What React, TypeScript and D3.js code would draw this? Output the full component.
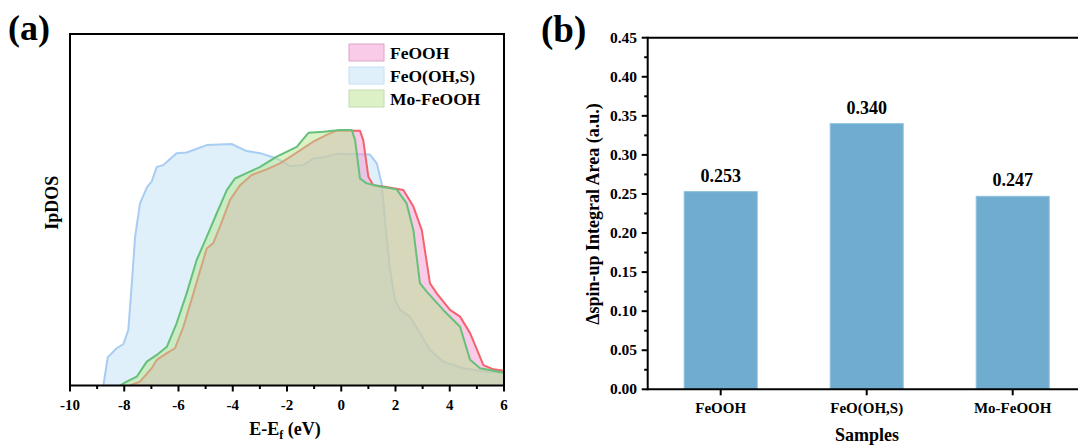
import React from "react";
import * as d3 from "d3";

// Integrated projected DOS, [E - Ef (eV), IpDOS (a.u.)]
const feoohDos: [number, number][] = [
  [-7.79, 0], [-7.42, 0.011], [-6.99, 0.049], [-6.8, 0.073], [-6.43, 0.092], [-6.13, 0.106],
  [-5.82, 0.167], [-5.45, 0.262], [-4.96, 0.39], [-4.72, 0.405], [-4.47, 0.452], [-4.1, 0.528],
  [-3.73, 0.57], [-3.3, 0.599], [-2.75, 0.615], [-2.26, 0.632], [-1.77, 0.656], [-1.03, 0.694],
  [-0.54, 0.713], [-0.17, 0.725], [0.69, 0.725], [0.81, 0.698], [1.0, 0.594], [1.18, 0.57],
  [1.55, 0.566], [2.29, 0.556], [2.66, 0.509], [2.97, 0.442], [3.27, 0.291], [3.52, 0.262],
  [4.01, 0.215], [4.38, 0.196], [4.75, 0.149], [5.24, 0.058], [5.61, 0.046], [6.0, 0.042],
];

const feoOhsDos: [number, number][] = [
  [-8.77, 0], [-8.61, 0.08], [-8.28, 0.106], [-8.03, 0.118], [-7.85, 0.158], [-7.73, 0.281],
  [-7.6, 0.423], [-7.42, 0.518], [-7.15, 0.566], [-6.99, 0.58], [-6.8, 0.622], [-6.56, 0.627],
  [-6.07, 0.661], [-5.7, 0.663], [-4.96, 0.684], [-4.04, 0.687], [-3.49, 0.667], [-2.99, 0.661],
  [-2.38, 0.646], [-1.89, 0.624], [-1.4, 0.627], [-1.03, 0.646], [-0.66, 0.649], [-0.17, 0.659],
  [1.06, 0.657], [1.31, 0.632], [1.49, 0.575], [1.61, 0.471], [1.8, 0.329], [1.98, 0.243],
  [2.17, 0.215], [2.53, 0.196], [2.9, 0.149], [3.27, 0.101], [3.76, 0.068], [4.5, 0.049],
  [5.36, 0.039], [6.0, 0.036],
];

const moFeoohDos: [number, number][] = [
  [-8.16, 0], [-7.91, 0.011], [-7.54, 0.025], [-7.17, 0.068], [-6.8, 0.087], [-6.43, 0.11],
  [-6.07, 0.177], [-5.7, 0.262], [-5.33, 0.357], [-4.96, 0.423], [-4.59, 0.49], [-4.22, 0.556],
  [-3.92, 0.589], [-3.49, 0.604], [-2.99, 0.622], [-2.38, 0.651], [-1.64, 0.679], [-1.21, 0.719],
  [-0.66, 0.722], [-0.05, 0.727], [0.39, 0.727], [0.51, 0.698], [0.69, 0.589], [0.94, 0.575],
  [1.43, 0.566], [2.04, 0.558], [2.41, 0.518], [2.66, 0.442], [2.9, 0.291], [3.15, 0.267],
  [3.76, 0.215], [4.38, 0.167], [4.75, 0.073], [5.12, 0.049], [5.61, 0.042], [6.0, 0.036],
];

const energyTicks = [-10, -8, -6, -4, -2, 0, 2, 4, 6];

const sampleNames = ["FeOOH", "FeO(OH,S)", "Mo-FeOOH"];
const spinUpArea = [0.253, 0.34, 0.247];
const areaTicks = [0, 0.05, 0.1, 0.15, 0.2, 0.25, 0.3, 0.35, 0.4, 0.45];

const FONT = "'Liberation Serif', 'Times New Roman', serif";

// draw order: blue underneath, then pink, then green on top
const dosSeries = [
  { name: "FeO(OH,S)", data: feoOhsDos, fill: "rgb(191,225,247)", line: "#a9ccf2" },
  { name: "FeOOH", data: feoohDos, fill: "rgb(243,151,209)", line: "#f2646c" },
  { name: "Mo-FeOOH", data: moFeoohDos, fill: "rgb(181,229,141)", line: "#66c07a" },
];

const legendItems = [
  { name: "FeOOH", fill: "#f9cbe8", stroke: "#d9a6c6" },
  { name: "FeO(OH,S)", fill: "#dff0fb", stroke: "#c8e0f2" },
  { name: "Mo-FeOOH", fill: "#dcf2c6", stroke: "#c4dcaf" },
];

function DosPanel() {
  const left = 70, right = 504, top = 34, bottom = 385.5;
  const x = d3.scaleLinear().domain([-10, 6]).range([left, right]);
  const y = d3.scaleLinear().domain([0, 1]).range([bottom, top]);
  const area = d3.area<[number, number]>().x((d) => x(d[0])).y0(y(0)).y1((d) => y(d[1]));
  const line = d3.line<[number, number]>().x((d) => x(d[0])).y((d) => y(d[1]));
  const minor = d3.range(-9, 6, 2);

  return (
    <g>
      <text x={8} y={40} fontFamily={FONT} fontWeight="bold" fontSize={36}>(a)</text>
      {dosSeries.map((s) => (
        <g key={s.name}>
          <path d={area(s.data) ?? ""} fill={s.fill} fillOpacity={0.5} />
          <path d={line(s.data) ?? ""} fill="none" stroke={s.line} strokeWidth={2} strokeLinejoin="round" />
        </g>
      ))}
      {/* frame */}
      <rect x={left} y={top} width={right - left} height={bottom - top} fill="none" stroke="#000" strokeWidth={2} />
      {energyTicks.map((t) => (
        <g key={t}>
          <line x1={x(t)} x2={x(t)} y1={bottom} y2={bottom + 6} stroke="#000" strokeWidth={2} />
          <text x={x(t)} y={410} textAnchor="middle" fontFamily={FONT} fontWeight="bold" fontSize={15}>
            {t < 0 ? `-${Math.abs(t)}` : `${t}`}
          </text>
        </g>
      ))}
      {minor.map((t) => (
        <line key={t} x1={x(t)} x2={x(t)} y1={bottom} y2={bottom + 3.5} stroke="#000" strokeWidth={2} />
      ))}
      <text x={285} y={435} textAnchor="middle" fontFamily={FONT} fontWeight="bold" fontSize={18}>
        E-E<tspan fontSize={12} dy={4}>f</tspan>
        <tspan dy={-4}> (eV)</tspan>
      </text>
      <text transform={`translate(57.5,${(top + bottom) / 2 - 7}) rotate(-90)`} textAnchor="middle"
        fontFamily={FONT} fontWeight="bold" fontSize={18}>IpDOS</text>
      {legendItems.map((it, i) => (
        <g key={it.name} transform={`translate(349,${44 + i * 23})`}>
          <rect x={0} y={0} width={35} height={17} fill={it.fill} stroke={it.stroke} strokeWidth={1} />
          <text x={41} y={14.5} fontFamily={FONT} fontWeight="bold" fontSize={17.5}>{it.name}</text>
        </g>
      ))}
    </g>
  );
}

function BarPanel() {
  const left = 647.7, top = 37.7, bottom = 389.3;
  const x = d3.scaleBand<string>().domain(sampleNames).range([left, left + 3 * 146])
    .paddingInner(0.5).paddingOuter(0.25);
  const y = d3.scaleLinear().domain([0, 0.45]).range([bottom, top]);
  const minor = d3.range(0.025, 0.45, 0.05);

  return (
    <g>
      <text x={541} y={41.5} fontFamily={FONT} fontWeight="bold" fontSize={37}>(b)</text>
      {sampleNames.map((n, i) => (
        <g key={n}>
          <rect x={x(n)} y={y(spinUpArea[i])} width={x.bandwidth()} height={bottom - y(spinUpArea[i])}
            fill="#70acd0" stroke="#8cc0de" strokeWidth={1} />
          <text x={(x(n) ?? 0) + x.bandwidth() / 2} y={y(spinUpArea[i]) - 10} textAnchor="middle"
            fontFamily={FONT} fontWeight="bold" fontSize={18}>{spinUpArea[i].toFixed(3)}</text>
          <line x1={(x(n) ?? 0) + x.bandwidth() / 2} x2={(x(n) ?? 0) + x.bandwidth() / 2}
            y1={bottom} y2={bottom + 6} stroke="#000" strokeWidth={2} />
          <text x={(x(n) ?? 0) + x.bandwidth() / 2} y={413} textAnchor="middle"
            fontFamily={FONT} fontWeight="bold" fontSize={15}>{n}</text>
        </g>
      ))}
      {/* axes frame */}
      <line x1={left} x2={1090} y1={top} y2={top} stroke="#000" strokeWidth={2} />
      <line x1={left} x2={1090} y1={bottom} y2={bottom} stroke="#000" strokeWidth={2} />
      <line x1={left} x2={left} y1={top - 1} y2={bottom + 1} stroke="#000" strokeWidth={2} />
      {areaTicks.map((t) => (
        <g key={t}>
          <line x1={left - 6} x2={left} y1={y(t)} y2={y(t)} stroke="#000" strokeWidth={2} />
          <text x={637} y={y(t) + 5} textAnchor="end" fontFamily={FONT} fontWeight="bold" fontSize={15.5}>
            {t.toFixed(2)}
          </text>
        </g>
      ))}
      {minor.map((t) => (
        <line key={t} x1={left - 3.5} x2={left} y1={y(t)} y2={y(t)} stroke="#000" strokeWidth={2} />
      ))}
      <text x={867} y={441} textAnchor="middle" fontFamily={FONT} fontWeight="bold" fontSize={18}>Samples</text>
      <text transform={`translate(599,214) rotate(-90)`} textAnchor="middle"
        fontFamily={FONT} fontWeight="bold" fontSize={18}>Δspin-up Integral Area (a.u.)</text>
    </g>
  );
}

export default function App() {
  return (
    <svg width={1078} height={447} viewBox="0 0 1078 447"
      style={{ position: "absolute", left: 0, top: 0, display: "block", background: "#fff" }}>
      <rect width={1078} height={447} fill="#fff" />
      <DosPanel />
      <BarPanel />
    </svg>
  );
}
